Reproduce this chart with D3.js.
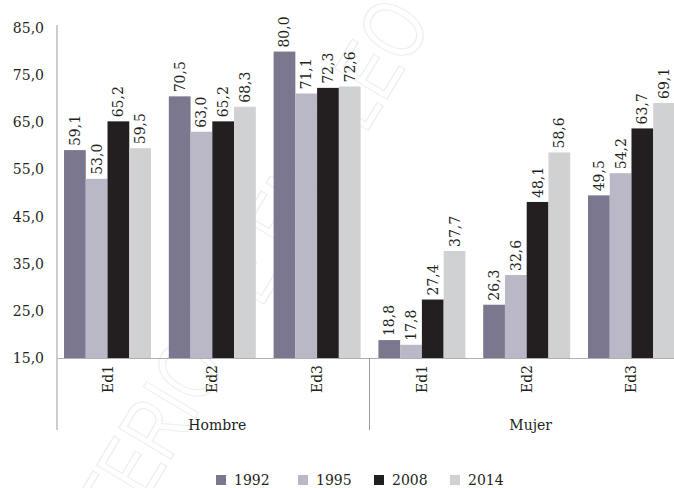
<!DOCTYPE html>
<html>
<head>
<meta charset="utf-8">
<script src="https://cdn.jsdelivr.net/npm/d3@7"></script>
<style>
  html, body { margin: 0; padding: 0; background: #fff; }
  svg { display: block; font-family: "DejaVu Serif", "Liberation Serif", serif; }
</style>
</head>
<body>
<svg id="chart" width="674" height="488"></svg>
<script>
// Grouped bars: sex -> education level, one bar per survey year
const groups = ["Hombre", "Mujer"];
const levels = ["Ed1", "Ed2", "Ed3"];
const years = ["1992", "1995", "2008", "2014"];
const colors = ["#7b778f", "#bab7c6", "#231f20", "#d0d1d3"];

const v1992 = [59.1, 70.5, 80.0, 18.8, 26.3, 49.5];
const v1995 = [53.0, 63.0, 71.1, 17.8, 32.6, 54.2];
const v2008 = [65.2, 65.2, 72.3, 27.4, 48.1, 63.7];
const v2014 = [59.5, 68.3, 72.6, 37.7, 58.6, 69.1];
const series = [v1992, v1995, v2008, v2014];

const yTicks = [15, 25, 35, 45, 55, 65, 75, 85];

const categories = [];
groups.forEach(g => levels.forEach(l => categories.push(g + "|" + l)));

const svg = d3.select("#chart");
const fmt = v => d3.format(".1f")(v).replace(".", ",");
const ink = "#231f20";

// faint outlined watermark behind the chart
svg.append("text")
  .attr("transform", "translate(32,690) rotate(-59) scale(0.74,1)")
  .attr("font-size", 88)
  .attr("font-family", "Liberation Sans, sans-serif")
  .attr("fill", "none")
  .attr("stroke", "#eeeeee")
  .attr("stroke-width", 1.3)
  .text("MINISTERIO DE EMPLEO");

const y = d3.scaleLinear().domain([15, 85]).range([358, 28]);
const x0 = d3.scaleBand().domain(categories).range([57, 682])
  .paddingInner(0.17).paddingOuter(0.067);
const x1 = d3.scaleBand().domain(years).range([0, x0.bandwidth()]);

// bars
const cat = svg.append("g").selectAll("g")
  .data(categories)
  .join("g")
  .attr("transform", d => `translate(${x0(d)},0)`);

cat.selectAll("rect")
  .data((d, i) => years.map((yr, s) => ({ yr, s, v: series[s][i] })))
  .join("rect")
  .attr("x", d => x1(d.yr))
  .attr("width", x1.bandwidth())
  .attr("y", d => y(d.v))
  .attr("height", d => y(15) - y(d.v))
  .attr("fill", d => colors[d.s]);

// value labels, rotated
cat.selectAll("text")
  .data((d, i) => years.map((yr, s) => ({ yr, s, v: series[s][i] })))
  .join("text")
  .attr("transform", d => `translate(${x1(d.yr) + x1.bandwidth() / 2 + 5},${y(d.v) - 4}) rotate(-90)`)
  .attr("text-anchor", "start")
  .attr("font-size", 14)
  .attr("fill", ink)
  .text(d => fmt(d.v));

// y axis
const yAxis = svg.append("g")
  .attr("transform", "translate(57,0)")
  .call(d3.axisLeft(y).tickValues(yTicks).tickFormat(fmt).tickSize(0).tickPadding(13));
yAxis.select(".domain").remove();
yAxis.selectAll("text").attr("font-size", 14).attr("fill", ink)
  .attr("font-family", "DejaVu Serif, serif");

svg.append("line").attr("x1", 57).attr("x2", 57).attr("y1", 25).attr("y2", 430)
  .attr("stroke", "#9a9a9a").attr("stroke-width", 1);
svg.append("line").attr("x1", 57).attr("x2", 674).attr("y1", y(15) + 0.5).attr("y2", y(15) + 0.5)
  .attr("stroke", "#b0b0b0").attr("stroke-width", 1);

// separator between the two groups
const sepX = (x0(categories[2]) + x0.bandwidth() + x0(categories[3])) / 2;
svg.append("line").attr("x1", sepX).attr("x2", sepX).attr("y1", y(15)).attr("y2", 430)
  .attr("stroke", "#9a9a9a").attr("stroke-width", 1);

// level labels
svg.append("g").selectAll("text")
  .data(categories)
  .join("text")
  .attr("transform", d => `translate(${x0(d) + x0.bandwidth() / 2 + 5},365) rotate(-90)`)
  .attr("text-anchor", "end")
  .attr("font-size", 14)
  .attr("fill", ink)
  .text(d => d.split("|")[1]);

// group labels
const step = x0.step();
svg.append("g").selectAll("text")
  .data(groups)
  .join("text")
  .attr("x", (d, i) => i === 0 ? (57 + sepX) / 2 + 4 : sepX + 1.5 * step + 4)
  .attr("y", 430)
  .attr("text-anchor", "middle")
  .attr("font-size", 14)
  .attr("fill", ink)
  .text(d => d);

// legend
const legendX = [216, 298, 374, 450];
const lg = svg.append("g").selectAll("g")
  .data(years)
  .join("g")
  .attr("transform", (d, i) => `translate(${legendX[i]},475)`);
lg.append("rect").attr("width", 10).attr("height", 10).attr("fill", (d, i) => colors[i]);
lg.append("text").attr("x", 18).attr("y", 9.5).attr("font-size", 14).attr("fill", ink).text(d => d);
</script>
</body>
</html>
